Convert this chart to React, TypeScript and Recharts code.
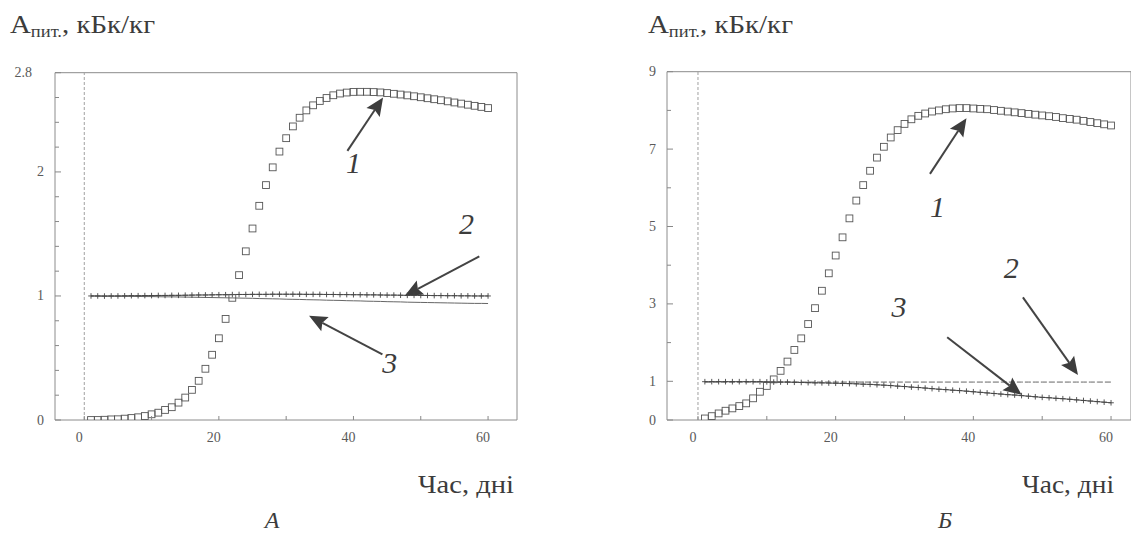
import React from "react";
import {
  ComposedChart,
  Line,
  ReferenceArea,
  ReferenceDot,
  ReferenceLine,
  Scatter,
  XAxis,
  YAxis,
} from "recharts";

const FONT = "'Liberation Serif', 'Times New Roman', 'DejaVu Serif', serif";
const INK = "#3c3c3c";

const DAYS = [
  1, 2, 3, 4, 5, 6, 7, 8, 9, 10, 11, 12, 13, 14, 15, 16, 17, 18, 19, 20, 21, 22, 23, 24, 25, 26, 27, 28, 29, 30,
  31, 32, 33, 34, 35, 36, 37, 38, 39, 40, 41, 42, 43, 44, 45, 46, 47, 48, 49, 50, 51, 52, 53, 54, 55, 56, 57, 58,
  59, 60,
];

// panel A
const A_SQUARES = [
  0.0, 0.0, 0.002, 0.005, 0.006, 0.011, 0.016, 0.022, 0.032, 0.046,
  0.059, 0.081, 0.103, 0.14, 0.181, 0.243, 0.316, 0.413, 0.526, 0.659,
  0.815, 0.985, 1.168, 1.36, 1.544, 1.727, 1.894, 2.037, 2.164, 2.272,
  2.367, 2.437, 2.496, 2.537, 2.572, 2.596, 2.618, 2.632, 2.64, 2.645,
  2.646, 2.646, 2.644, 2.641, 2.636, 2.63, 2.624, 2.617, 2.61, 2.602,
  2.594, 2.586, 2.578, 2.569, 2.56, 2.551, 2.542, 2.533, 2.524, 2.515,
];
const A_PLUS = [
  1.0, 1.0, 0.999, 1.0, 1.0, 1.001, 1.002, 1.002, 1.003, 1.003,
  1.004, 1.004, 1.005, 1.005, 1.006, 1.007, 1.008, 1.008, 1.009, 1.01,
  1.01, 1.011, 1.012, 1.012, 1.013, 1.013, 1.013, 1.014, 1.014, 1.014,
  1.014, 1.014, 1.013, 1.013, 1.013, 1.012, 1.012, 1.011, 1.011, 1.01,
  1.01, 1.009, 1.009, 1.008, 1.007, 1.007, 1.006, 1.005, 1.005, 1.004,
  1.004, 1.003, 1.003, 1.002, 1.002, 1.001, 1.001, 1.0, 1.0, 1.0,
];
const A_LINE = [
  1.0, 0.999, 0.999, 0.998, 0.998, 0.997, 0.997, 0.996, 0.995, 0.995,
  0.994, 0.993, 0.993, 0.992, 0.991, 0.99, 0.989, 0.988, 0.987, 0.986,
  0.985, 0.984, 0.983, 0.982, 0.981, 0.979, 0.978, 0.977, 0.976, 0.974,
  0.973, 0.972, 0.97, 0.969, 0.968, 0.966, 0.965, 0.964, 0.962, 0.961,
  0.96, 0.958, 0.957, 0.956, 0.954, 0.953, 0.952, 0.95, 0.949, 0.948,
  0.947, 0.946, 0.945, 0.944, 0.943, 0.942, 0.941, 0.94, 0.94, 0.939,
];

// panel Б
const B_SQUARES = [
  0.04, 0.1, 0.17, 0.24, 0.3, 0.36, 0.43, 0.56, 0.73, 0.88,
  1.05, 1.27, 1.51, 1.81, 2.11, 2.48, 2.89, 3.34, 3.79, 4.25,
  4.72, 5.21, 5.67, 6.07, 6.44, 6.78, 7.06, 7.3, 7.49, 7.65,
  7.77, 7.86, 7.92, 7.97, 8.0, 8.03, 8.05, 8.06, 8.06, 8.05,
  8.04, 8.03, 8.01, 7.99, 7.97, 7.95, 7.93, 7.91, 7.89, 7.87,
  7.85, 7.83, 7.8, 7.78, 7.76, 7.73, 7.7, 7.67, 7.64, 7.61,
];
const B_LINE = [
  0.98, 0.98, 0.98, 0.98, 0.98, 0.98, 0.98, 0.98, 0.98, 0.98,
  0.98, 0.98, 0.98, 0.98, 0.98, 0.98, 0.98, 0.98, 0.98, 0.98,
  0.98, 0.98, 0.98, 0.98, 0.98, 0.98, 0.98, 0.98, 0.98, 0.98,
  0.98, 0.98, 0.98, 0.98, 0.98, 0.98, 0.98, 0.98, 0.98, 0.98,
  0.98, 0.98, 0.98, 0.98, 0.98, 0.98, 0.98, 0.98, 0.98, 0.98,
  0.98, 0.98, 0.98, 0.98, 0.98, 0.98, 0.98, 0.98, 0.98, 0.98,
];
const B_PLUS = [
  0.99, 0.99, 0.99, 0.99, 0.99, 0.99, 0.99, 0.99, 0.99, 0.985,
  0.98, 0.98, 0.98, 0.975, 0.97, 0.965, 0.96, 0.96, 0.955, 0.95,
  0.945, 0.94, 0.935, 0.925, 0.92, 0.91, 0.9, 0.89, 0.875, 0.865,
  0.85, 0.84, 0.825, 0.81, 0.795, 0.785, 0.77, 0.76, 0.745, 0.73,
  0.715, 0.7, 0.685, 0.67, 0.655, 0.645, 0.63, 0.615, 0.6, 0.585,
  0.575, 0.56, 0.55, 0.535, 0.52, 0.505, 0.49, 0.475, 0.46, 0.445,
];

const X_TICKS = [0, 10, 20, 30, 40, 50, 60];
const X_LABELS = [0, 20, 40, 60];
const A_Y_TICKS = [0, 0.2, 0.4, 0.6, 0.8, 1, 1.2, 1.4, 1.6, 1.8, 2, 2.2, 2.4, 2.6, 2.8];
const A_Y_LABELS = [0, 1, 2, 2.8];
const B_Y_TICKS = [0, 1, 2, 3, 4, 5, 6, 7, 8, 9];
const B_Y_LABELS = [0, 1, 3, 5, 7, 9];

// annotation arrows and curve numbers, in data units
const A_ARROWS = [
  { tail: [39.1, 2.17], tip: [44.4, 2.6] },
  { tail: [58.7, 1.32], tip: [47.6, 1.0] },
  { tail: [44.3, 0.53], tip: [33.4, 0.84] },
];
const A_NUMBERS = [
  { text: "1", at: [40.0, 2.07] },
  { text: "2", at: [56.8, 1.58] },
  { text: "3", at: [45.4, 0.46] },
];
const B_ARROWS = [
  { tail: [33.7, 6.36], tip: [39.0, 7.8] },
  { tail: [47.2, 3.17], tip: [55.2, 1.16] },
  { tail: [36.2, 2.14], tip: [47.0, 0.65] },
];
const B_NUMBERS = [
  { text: "1", at: [34.8, 5.51] },
  { text: "2", at: [45.5, 3.94] },
  { text: "3", at: [29.2, 2.93] },
];

const rowsA = DAYS.map((day, i) => ({ day, s1: A_SQUARES[i], s2: A_PLUS[i], s3: A_LINE[i] }));
const rowsB = DAYS.map((day, i) => ({ day, s1: B_SQUARES[i], s2: B_LINE[i], s3: B_PLUS[i] }));

function squareShape(p: any) {
  return (
    <rect
      x={p.cx - 3.4}
      y={p.cy - 3.4}
      width={6.8}
      height={6.8}
      fill="none"
      stroke="#555"
      strokeWidth={0.9}
    />
  );
}

function plusDot(p: any) {
  const { cx, cy, index } = p;
  return (
    <path
      key={`plus-${index}`}
      d={`M${cx - 2.8},${cy}h5.6M${cx},${cy - 2.8}v5.6`}
      stroke="#444"
      strokeWidth={0.9}
      fill="none"
    />
  );
}

function arrowShape(p: any) {
  const { x1, y1, x2, y2 } = p;
  const dx = x2 - x1;
  const dy = y2 - y1;
  const len = Math.hypot(dx, dy) || 1;
  const ux = dx / len;
  const uy = dy / len;
  const hl = 18;
  const hw = 8;
  const bx = x2 - ux * hl;
  const by = y2 - uy * hl;
  const nx = bx + ux * 3;
  const ny = by + uy * 3;
  return (
    <g>
      <line x1={x1} y1={y1} x2={nx} y2={ny} stroke="#444" strokeWidth={2} />
      <polygon
        points={`${x2},${y2} ${bx - uy * hw},${by + ux * hw} ${nx},${ny} ${bx + uy * hw},${by - ux * hw}`}
        fill="#3d3d3d"
      />
    </g>
  );
}

function numberShape(text: string) {
  return (p: any) => (
    <text
      x={p.cx}
      y={p.cy + 10}
      textAnchor="middle"
      style={{ fontFamily: FONT, fontStyle: "italic", fontSize: 30 }}
      fill={INK}
    >
      {text}
    </text>
  );
}

function makeXTick(labels: number[]) {
  return (p: any) => {
    const { x, y, payload } = p;
    const v = payload.value;
    return (
      <g key={`xt-${v}`}>
        <line x1={x} x2={x} y1={y} y2={y - 4} stroke="#888" />
        {labels.includes(v) ? (
          <text
            x={x - 5}
            y={y + 22}
            textAnchor="middle"
            style={{ fontFamily: FONT, fontSize: 14 }}
            fill="#5a5a5a"
          >
            {v}
          </text>
        ) : null}
      </g>
    );
  };
}

function makeYTick(labels: number[], topShift: number) {
  const top = labels[labels.length - 1];
  return (p: any) => {
    const { x, y, payload } = p;
    const v = payload.value;
    const major = labels.includes(v);
    return (
      <g key={`yt-${v}`}>
        <line x1={x} x2={x + (major ? 6 : 4)} y1={y} y2={y} stroke="#888" />
        {major ? (
          <text
            x={x - 11 + (v === top ? topShift : 0)}
            y={y + 4.5}
            textAnchor="end"
            style={{ fontFamily: FONT, fontSize: 14 }}
            fill="#5a5a5a"
          >
            {String(v)}
          </text>
        ) : null}
      </g>
    );
  };
}

interface PanelProps {
  rows: any[];
  width: number;
  height: number;
  margin: { top: number; right: number; bottom: number; left: number };
  xDomain: [number, number];
  yDomain: [number, number];
  yTicks: number[];
  yLabels: number[];
  topShift: number;
  plusKey: string;
  lineKey: string;
  lineDash?: string;
  arrows: { tail: number[]; tip: number[] }[];
  numbers: { text: string; at: number[] }[];
}

function Panel(props: PanelProps) {
  const { rows, xDomain, yDomain } = props;
  return (
    <ComposedChart width={props.width} height={props.height} data={rows} margin={props.margin}>
      <XAxis
        dataKey="day"
        type="number"
        domain={xDomain}
        ticks={X_TICKS}
        interval={0}
        allowDataOverflow
        axisLine={false}
        tickLine={false}
        tickSize={0}
        tickMargin={0}
        height={1}
        tick={makeXTick(X_LABELS)}
      />
      <YAxis
        type="number"
        domain={yDomain}
        ticks={props.yTicks}
        interval={0}
        allowDataOverflow
        axisLine={false}
        tickLine={false}
        tickSize={0}
        tickMargin={0}
        width={1}
        tick={makeYTick(props.yLabels, props.topShift)}
      />
      <ReferenceArea
        x1={xDomain[0]}
        x2={xDomain[1]}
        y1={yDomain[0]}
        y2={yDomain[1]}
        fill="none"
        fillOpacity={0}
        stroke="#8c8c8c"
        strokeWidth={1}
      />
      <ReferenceLine x={0} stroke="#a0a0a0" strokeDasharray="3 2" />
      <Line
        dataKey={props.lineKey}
        type="linear"
        stroke="#666"
        strokeWidth={1}
        strokeDasharray={props.lineDash}
        dot={false}
        activeDot={false}
        isAnimationActive={false}
      />
      <Line
        dataKey={props.plusKey}
        type="linear"
        stroke="#555"
        strokeWidth={1}
        dot={plusDot}
        activeDot={false}
        isAnimationActive={false}
      />
      <Scatter dataKey="s1" shape={squareShape} isAnimationActive={false} />
      {props.arrows.map((a, i) => (
        <ReferenceLine
          key={`arrow-${i}`}
          segment={[
            { x: a.tail[0], y: a.tail[1] },
            { x: a.tip[0], y: a.tip[1] },
          ]}
          ifOverflow="visible"
          shape={arrowShape}
        />
      ))}
      {props.numbers.map((n) => (
        <ReferenceDot
          key={`num-${n.text}`}
          x={n.at[0]}
          y={n.at[1]}
          r={0}
          ifOverflow="visible"
          shape={numberShape(n.text)}
        />
      ))}
    </ComposedChart>
  );
}

function Title({ x }: { x: number }) {
  return (
    <text
      x={x}
      y={33}
      style={{ fontFamily: FONT, fontSize: 25 }}
      fill={INK}
      textLength={145}
      lengthAdjust="spacingAndGlyphs"
    >
      А
      <tspan style={{ fontSize: 16 }} dy={4}>
        пит.
      </tspan>
      <tspan dy={-4}>, кБк/кг</tspan>
    </text>
  );
}

export default function App() {
  return (
    <div
      style={{
        position: "absolute",
        left: 0,
        top: 0,
        width: 1131,
        height: 534,
        overflow: "hidden",
        background: "#fff",
      }}
    >
      <div style={{ position: "absolute", left: 0, top: 0 }}>
        <Panel
          rows={rowsA}
          width={560}
          height={470}
          margin={{ top: 72.7, right: 43, bottom: 49, left: 54 }}
          xDomain={[-4.35, 64.3]}
          yDomain={[0, 2.8]}
          yTicks={A_Y_TICKS}
          yLabels={A_Y_LABELS}
          topShift={-12}
          plusKey="s2"
          lineKey="s3"
          arrows={A_ARROWS}
          numbers={A_NUMBERS}
        />
      </div>
      <div style={{ position: "absolute", left: 580, top: 0 }}>
        <Panel
          rows={rowsB}
          width={560}
          height={470}
          margin={{ top: 71.7, right: 9, bottom: 49, left: 86 }}
          xDomain={[-4.5, 62.9]}
          yDomain={[0, 9]}
          yTicks={B_Y_TICKS}
          yLabels={B_Y_LABELS}
          topShift={0}
          plusKey="s3"
          lineKey="s2"
          lineDash="6 2"
          arrows={B_ARROWS}
          numbers={B_NUMBERS}
        />
      </div>
      <svg
        width={1131}
        height={534}
        style={{ position: "absolute", left: 0, top: 0, pointerEvents: "none" }}
      >
        <Title x={10} />
        <Title x={648} />
        <text
          x={418}
          y={493}
          style={{ fontFamily: FONT, fontSize: 26 }}
          fill={INK}
          textLength={96}
          lengthAdjust="spacingAndGlyphs"
        >
          Час, дні
        </text>
        <text
          x={1022}
          y={493}
          style={{ fontFamily: FONT, fontSize: 26 }}
          fill={INK}
          textLength={92}
          lengthAdjust="spacingAndGlyphs"
        >
          Час, дні
        </text>
        <text
          x={272}
          y={528}
          textAnchor="middle"
          style={{ fontFamily: FONT, fontStyle: "italic", fontSize: 24 }}
          fill={INK}
        >
          А
        </text>
        <text
          x={945}
          y={528}
          textAnchor="middle"
          style={{ fontFamily: FONT, fontStyle: "italic", fontSize: 24 }}
          fill={INK}
        >
          Б
        </text>
      </svg>
    </div>
  );
}
